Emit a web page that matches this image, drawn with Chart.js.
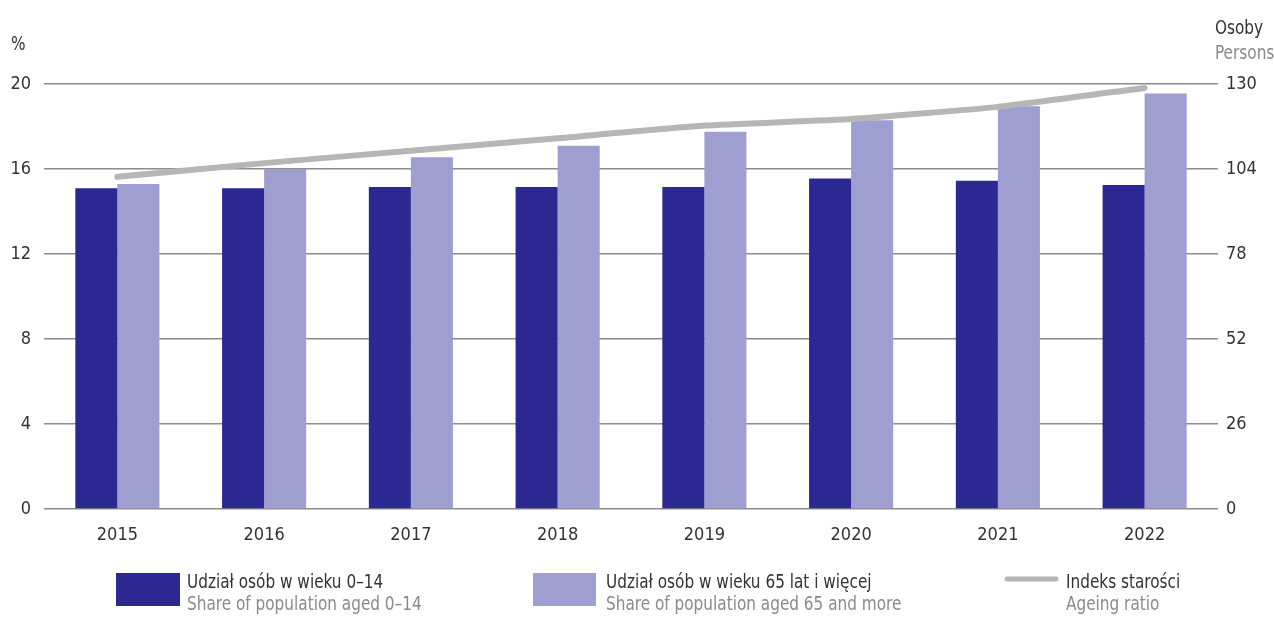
<!DOCTYPE html>
<html>
<head>
<meta charset="utf-8">
<style>
  html, body { margin: 0; padding: 0; background: #ffffff; }
  #wrap { width: 1274px; height: 619px; position: relative; }
</style>
<script src="https://cdn.jsdelivr.net/npm/chart.js@4/dist/chart.umd.min.js"></script>
</head>
<body>
<div id="wrap"><canvas id="chart" width="1274" height="619"></canvas></div>
<script>
// Years shown on the category axis
const years = ['2015', '2016', '2017', '2018', '2019', '2020', '2021', '2022'];

// Share of population aged 0–14, in %
const shareYoung = [15.1, 15.1, 15.15, 15.15, 15.15, 15.55, 15.45, 15.25];

// Share of population aged 65 and more, in %
const shareOld = [15.3, 16.0, 16.55, 17.1, 17.75, 18.3, 18.95, 19.55];

// Ageing ratio (persons aged 65+ per 100 aged 0–14)
const ageingIndex = [101.6, 105.8, 109.6, 113.4, 117.3, 119.3, 123.0, 128.8];

// Tick values for the two value axes
const leftTicks = [0, 4, 8, 12, 16, 20];
const rightTicks = [0, 26, 52, 78, 104, 130];

// Legend text (Polish first line, English second line)
const legendPl = ['Udział osób w wieku 0–14', 'Udział osób w wieku 65 lat i więcej', 'Indeks starości'];
const legendEn = ['Share of population aged 0–14', 'Share of population aged 65 and more', 'Ageing ratio'];

const FONT = '"DejaVu Sans Condensed", "Liberation Sans Narrow", sans-serif';
const DARK_TEXT = '#333333';
const GREY_TEXT = '#8a8a8a';
const COL_YOUNG = '#2c2891';
const COL_OLD = '#9e9ed1';
const COL_LINE = '#b6b6b6';
const COL_GRID = '#8c8c8c';
const NARROW = 0.85; // horizontal squeeze for the annotation text

Chart.defaults.font.family = FONT;
Chart.defaults.font.size = 18;
Chart.defaults.color = DARK_TEXT;

// Text drawn slightly condensed, starting at (x, y) on the baseline
function narrowText(ctx, text, x, y, color) {
  ctx.save();
  ctx.translate(x, y);
  ctx.scale(NARROW, 1);
  ctx.fillStyle = color;
  ctx.fillText(text, 0, 0);
  ctx.restore();
}

// Draws the axis titles and the two-line legend below the plot
const extras = {
  id: 'extras',
  afterDraw(chart) {
    const ctx = chart.ctx;
    ctx.save();
    ctx.font = '20px ' + FONT;
    ctx.textBaseline = 'alphabetic';
    ctx.textAlign = 'left';

    // axis titles
    narrowText(ctx, '%', 11, 50, DARK_TEXT);
    narrowText(ctx, 'Osoby', 1215, 34, DARK_TEXT);
    narrowText(ctx, 'Persons', 1215, 59, GREY_TEXT);

    // legend
    const ds = chart.data.datasets;
    const items = [
      { kind: 'box', x: 116, w: 64, tx: 187, color: ds[1].backgroundColor },
      { kind: 'box', x: 533, w: 63, tx: 606, color: ds[2].backgroundColor },
      { kind: 'line', x: 1007, w: 49, tx: 1066, color: ds[0].borderColor }
    ];
    items.forEach((it, i) => {
      if (it.kind === 'box') {
        ctx.fillStyle = it.color;
        ctx.fillRect(it.x, 573, it.w, 33);
      } else {
        ctx.strokeStyle = it.color;
        ctx.lineWidth = 5;
        ctx.lineCap = 'round';
        ctx.beginPath();
        ctx.moveTo(it.x, 579);
        ctx.lineTo(it.x + it.w, 579);
        ctx.stroke();
      }
      narrowText(ctx, legendPl[i], it.tx, 588, DARK_TEXT);
      narrowText(ctx, legendEn[i], it.tx, 610, GREY_TEXT);
    });
    ctx.restore();
  }
};

new Chart(document.getElementById('chart'), {
  type: 'bar',
  data: {
    labels: years,
    datasets: [
      {
        type: 'line',
        label: legendPl[2],
        data: ageingIndex,
        yAxisID: 'y1',
        borderColor: COL_LINE,
        backgroundColor: COL_LINE,
        borderWidth: 6,
        borderCapStyle: 'round',
        borderJoinStyle: 'round',
        pointRadius: 0,
        tension: 0.15,
        fill: false,
        order: 0
      },
      {
        label: legendPl[0],
        data: shareYoung,
        yAxisID: 'y',
        backgroundColor: COL_YOUNG,
        categoryPercentage: 0.573,
        barPercentage: 1.0,
        order: 1
      },
      {
        label: legendPl[1],
        data: shareOld,
        yAxisID: 'y',
        backgroundColor: COL_OLD,
        categoryPercentage: 0.573,
        barPercentage: 1.0,
        order: 1
      }
    ]
  },
  options: {
    responsive: false,
    animation: false,
    layout: { padding: { left: 0, right: 0, top: 84, bottom: 60 } },
    plugins: {
      legend: { display: false },
      tooltip: { enabled: false }
    },
    scales: {
      x: {
        grid: { display: false, drawTicks: false },
        border: { display: false },
        ticks: { padding: 16, color: DARK_TEXT, font: { size: 18 } },
        afterFit(scale) { scale.height = 50; }
      },
      y: {
        position: 'left',
        min: 0,
        max: 20,
        afterBuildTicks(scale) { scale.ticks = leftTicks.map(v => ({ value: v })); },
        grid: { color: COL_GRID, lineWidth: 1.5, drawTicks: false },
        border: { display: false },
        ticks: { padding: 13, color: DARK_TEXT, font: { size: 18 } },
        afterFit(scale) { scale.width = 44; }
      },
      y1: {
        position: 'right',
        min: 0,
        max: 130,
        afterBuildTicks(scale) { scale.ticks = rightTicks.map(v => ({ value: v })); },
        grid: { drawOnChartArea: false, drawTicks: false },
        border: { display: false },
        ticks: { padding: 8, color: DARK_TEXT, font: { size: 18 } },
        afterFit(scale) { scale.width = 56; }
      }
    }
  },
  plugins: [extras]
});
</script>
</body>
</html>
